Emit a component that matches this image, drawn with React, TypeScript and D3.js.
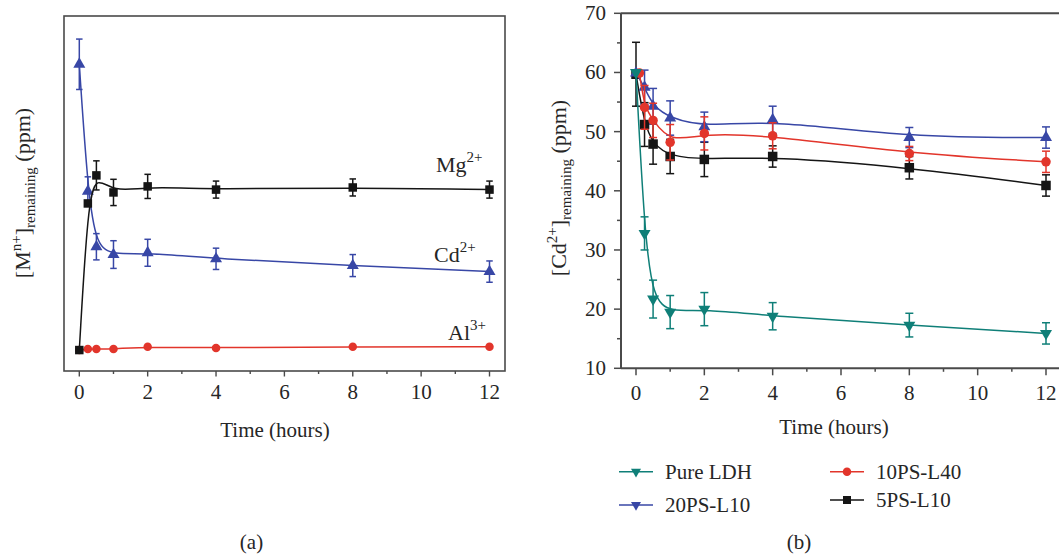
import React from "react";
import * as d3 from "d3";

// ---------- Data ----------
// Panel (a): arbitrary concentration units (no y scale shown)
const timesA = [0, 0.25, 0.5, 1, 2, 4, 8, 12];
const cdA = [86.4, 50.6, 35.0, 32.8, 33.3, 31.6, 29.7, 28.0];
const cdAErr = [7.1, 4.1, 3.7, 3.9, 3.8, 3.0, 3.1, 3.0];
const mgA = [5.9, 47.2, 55.1, 50.3, 52.0, 51.1, 51.7, 51.1];
const mgAErr = [0, 0, 4.1, 3.7, 3.4, 2.4, 2.4, 2.4];
const alA = [5.9, 6.2, 6.2, 6.2, 6.8, 6.5, 6.8, 6.8];

// Panel (b): [Cd2+] remaining (ppm)
const timesB = [0, 0.25, 0.5, 1, 2, 4, 8, 12];
const timesB10 = [0.1, 0.25, 0.5, 1, 2, 4, 8, 12];
const pureLDH = [60, 32.8, 21.7, 19.5, 20.0, 18.8, 17.3, 15.9];
const pureLDHErr = [0, 2.8, 3.2, 2.8, 2.8, 2.3, 2.0, 1.8];
const ps20L10 = [59.9, 57.5, 54.3, 52.3, 50.8, 52.0, 49.0, 49.0];
const ps20L10Err = [0, 2.9, 3.0, 2.9, 2.5, 2.3, 1.7, 1.8];
const ps10L40 = [59.9, 54.1, 51.9, 48.2, 49.7, 49.3, 46.3, 44.9];
const ps10L40Err = [0, 3.7, 2.9, 3.0, 2.8, 2.2, 1.2, 1.8];
const ps5L10 = [59.7, 51.2, 47.9, 45.8, 45.3, 45.8, 43.9, 40.9];
const ps5L10Err = [5.4, 3.7, 3.4, 2.9, 2.9, 1.8, 1.9, 1.8];

const xTicks = [0, 1, 2, 3, 4, 5, 6, 7, 8, 9, 10, 11, 12];
const yTicksB = [10, 20, 30, 40, 50, 60, 70];
const yMinorB = [15, 25, 35, 45, 55, 65];

const legendItems = [
  { label: "Pure LDH", color: "#0f7f78", shape: "down", col: 0, row: 0 },
  { label: "20PS-L10", color: "#3847a6", shape: "down", col: 0, row: 1 },
  { label: "10PS-L40", color: "#e2352b", shape: "circle", col: 1, row: 0 },
  { label: "5PS-L10", color: "#151515", shape: "square", col: 1, row: 1 },
];

const FONT = "'Liberation Serif', 'Times New Roman', serif";
const TEXT = "#262626";

type Shape = "up" | "down" | "circle" | "square";

function Marker({ x, y, shape, color, s }: { x: number; y: number; shape: Shape; color: string; s: number }) {
  if (shape === "circle") return <circle cx={x} cy={y} r={s / 2} fill={color} />;
  if (shape === "square") return <rect x={x - s / 2} y={y - s / 2} width={s} height={s} fill={color} />;
  const area = (s * s * Math.sqrt(3)) / 4;
  const p = d3.symbol(d3.symbolTriangle, area)() || "";
  return <path d={p} fill={color} transform={`translate(${x},${y}) rotate(${shape === "down" ? 180 : 0})`} />;
}

function Series({ xs, ys, errs, xScale, yScale, color, shape, size, cap }: any) {
  const pts: [number, number][] = xs.map((t: number, i: number) => [xScale(t), yScale(ys[i])]);
  const line = d3.line().curve(d3.curveBasis)(pts) || "";
  return (
    <g>
      <path d={line} fill="none" stroke={color} strokeWidth={1.5} />
      {errs &&
        xs.map((t: number, i: number) => {
          if (!errs[i]) return null;
          const x = xScale(t);
          const y1 = yScale(ys[i] + errs[i]);
          const y2 = yScale(ys[i] - errs[i]);
          return (
            <g key={"e" + i} stroke={color} strokeWidth={1.5}>
              <line x1={x} x2={x} y1={y1} y2={y2} />
              <line x1={x - cap / 2} x2={x + cap / 2} y1={y1} y2={y1} />
              <line x1={x - cap / 2} x2={x + cap / 2} y1={y2} y2={y2} />
            </g>
          );
        })}
      {xs.map((t: number, i: number) => (
        <Marker key={"m" + i} x={xScale(t)} y={yScale(ys[i])} shape={shape} color={color} s={size} />
      ))}
    </g>
  );
}

export default function App() {
  // Panel (a)
  const xA = d3.scaleLinear().domain([0, 12]).range([79.3, 489.5]);
  const yA = d3.scaleLinear().domain([0, 100]).range([371, 16]);
  const frameA = { x: 64, y: 16, w: 441, h: 355 };

  // Panel (b)
  const xB = d3.scaleLinear().domain([0, 12]).range([636, 1046]);
  const yB = d3.scaleLinear().domain([10, 70]).range([368.3, 13.3]);
  const axB = { left: 621, bottom: 368.3, top: 13.3, right: 1065 };

  return (
    <svg
      width={1059}
      height={554}
      style={{ position: "absolute", left: 0, top: 0, background: "#fff" }}
      fontFamily={FONT}
    >
      {/* ---------- Panel (a) ---------- */}
      <g>
        <Series xs={timesA} ys={alA} xScale={xA} yScale={yA} color="#e2352b" shape="circle" size={8.5} cap={6} />
        <Series xs={timesA} ys={cdA} errs={cdAErr} xScale={xA} yScale={yA} color="#3847a6" shape="up" size={12} cap={6.5} />
        <Series xs={timesA} ys={mgA} errs={mgAErr} xScale={xA} yScale={yA} color="#151515" shape="square" size={8.5} cap={6.5} />

        <rect x={frameA.x} y={frameA.y} width={frameA.w} height={frameA.h} fill="none" stroke="#4a4a4a" strokeWidth={1.6} />
        {xTicks.map((t) => (
          <line
            key={"ta" + t}
            x1={xA(t)}
            x2={xA(t)}
            y1={frameA.y + frameA.h}
            y2={frameA.y + frameA.h + (t % 2 === 0 ? 5.5 : 3)}
            stroke="#4a4a4a"
            strokeWidth={1.4}
          />
        ))}
        {xTicks
          .filter((t) => t % 2 === 0)
          .map((t) => (
            <text key={"la" + t} x={xA(t)} y={399} textAnchor="middle" fontSize={21} fill={TEXT}>
              {t}
            </text>
          ))}
        <text x={275} y={437} textAnchor="middle" fontSize={21} fill={TEXT}>
          Time (hours)
        </text>
        <text x={251.5} y={549} textAnchor="middle" fontSize={21} fill={TEXT}>
          (a)
        </text>
        <text transform="translate(30,193) rotate(-90)" textAnchor="middle" fontSize={22} fill={TEXT}>
          [M<tspan fontSize={15} dy={-9}>n+</tspan>
          <tspan dy={9}>]</tspan>
          <tspan fontSize={15} dy={5}>remaining</tspan>
          <tspan dy={-5}> (ppm)</tspan>
        </text>
        <text x={436} y={172} fontSize={22} fill={TEXT}>
          Mg<tspan fontSize={15} dy={-10}>2+</tspan>
        </text>
        <text x={434} y={261.5} fontSize={22} fill={TEXT}>
          Cd<tspan fontSize={15} dy={-10}>2+</tspan>
        </text>
        <text x={448} y={340} fontSize={22} fill={TEXT}>
          Al<tspan fontSize={15} dy={-10}>3+</tspan>
        </text>
      </g>

      {/* ---------- Panel (b) ---------- */}
      <g>
        <Series xs={timesB} ys={ps5L10} errs={ps5L10Err} xScale={xB} yScale={yB} color="#151515" shape="square" size={9.5} cap={8} />
        <Series xs={timesB} ys={ps20L10} errs={ps20L10Err} xScale={xB} yScale={yB} color="#3847a6" shape="up" size={12} cap={8} />
        <Series xs={timesB10} ys={ps10L40} errs={ps10L40Err} xScale={xB} yScale={yB} color="#e2352b" shape="circle" size={9.5} cap={8} />
        <Series xs={timesB} ys={pureLDH} errs={pureLDHErr} xScale={xB} yScale={yB} color="#0f7f78" shape="down" size={12} cap={8} />

        <g stroke="#4a4a4a" strokeWidth={2}>
          <line x1={axB.left} x2={axB.left} y1={axB.top} y2={axB.bottom} />
          <line x1={axB.left} x2={axB.right} y1={axB.bottom} y2={axB.bottom} />
          <line x1={axB.left} x2={axB.right} y1={axB.top} y2={axB.top} />
          {yTicksB.map((v) => (
            <line key={"yb" + v} x1={axB.left - 7} x2={axB.left} y1={yB(v)} y2={yB(v)} strokeWidth={1.5} />
          ))}
          {yMinorB.map((v) => (
            <line key={"ym" + v} x1={axB.left - 4} x2={axB.left} y1={yB(v)} y2={yB(v)} strokeWidth={1.5} />
          ))}
          {xTicks.map((t) => (
            <line
              key={"xb" + t}
              x1={xB(t)}
              x2={xB(t)}
              y1={axB.bottom}
              y2={axB.bottom + (t % 2 === 0 ? 7 : 3.5)}
              strokeWidth={1.5}
            />
          ))}
        </g>
        {yTicksB.map((v) => (
          <text key={"ylb" + v} x={606} y={yB(v) + 7} textAnchor="end" fontSize={21} fill={TEXT}>
            {v}
          </text>
        ))}
        {xTicks
          .filter((t) => t % 2 === 0)
          .map((t) => (
            <text key={"xlb" + t} x={xB(t)} y={400} textAnchor="middle" fontSize={21} fill={TEXT}>
              {t}
            </text>
          ))}
        <text x={834} y={434} textAnchor="middle" fontSize={21} fill={TEXT}>
          Time (hours)
        </text>
        <text x={799} y={549} textAnchor="middle" fontSize={21} fill={TEXT}>
          (b)
        </text>
        <text transform="translate(566,188) rotate(-90)" textAnchor="middle" fontSize={22} fill={TEXT}>
          [Cd<tspan fontSize={15} dy={-9}>2+</tspan>
          <tspan dy={9}>]</tspan>
          <tspan fontSize={15} dy={5}>remaining</tspan>
          <tspan dy={-5}> (ppm)</tspan>
        </text>

        {/* Legend */}
        {legendItems.map((it) => {
          const lx = it.col === 0 ? 619 : 830;
          const ly = it.col === 0 ? (it.row === 0 ? 471.7 : 505) : it.row === 0 ? 471.7 : 500;
          return (
            <g key={it.label}>
              <line x1={lx} x2={lx + 34} y1={ly} y2={ly} stroke={it.color} strokeWidth={1.5} />
              <Marker x={lx + 17} y={ly} shape={it.shape as Shape} color={it.color} s={it.shape === "circle" ? 8.5 : it.shape === "square" ? 8 : 10} />
              <text x={lx + 46} y={ly + 7} fontSize={21} fill={TEXT}>
                {it.label}
              </text>
            </g>
          );
        })}
      </g>
    </svg>
  );
}
